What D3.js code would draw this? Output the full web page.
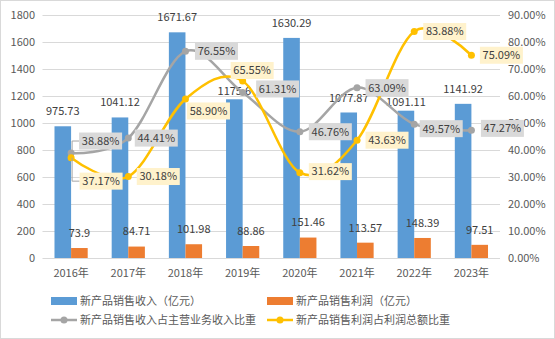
<!DOCTYPE html>
<html><head><meta charset="utf-8">
<script src="https://cdn.jsdelivr.net/npm/d3@7"></script>
<style>body{margin:0;background:#fff}svg{display:block}text{font-family:"Noto Sans CJK SC","Noto Sans",sans-serif}</style>
</head><body><svg id="c" width="555" height="339"></svg>
<script>
const years = ["2016年","2017年","2018年","2019年","2020年","2021年","2022年","2023年"];
const revenue = [975.73,1041.12,1671.67,1175.6,1630.29,1077.87,1091.11,1141.92];
const profit = [73.9,84.71,101.98,88.86,151.46,113.57,148.39,97.51];
const revenueShare = [38.88,44.41,76.55,61.31,46.76,63.09,49.57,47.27];
const profitShare = [37.17,30.18,58.90,65.55,31.62,43.63,83.88,75.09];
const leftTicks = [0,200,400,600,800,1000,1200,1400,1600,1800];
const rightTicks = [0,10,20,30,40,50,60,70,80,90];
const seriesNames = ["新产品销售收入（亿元）","新产品销售利润（亿元）","新产品销售收入占主营业务收入比重","新产品销售利润占利润总额比重"];

// label placement tweaks (offsets of label centers from points)
const grayOff = [[29.5,-12],[28,0],[31,0],[35,-3.5],[30.5,0],[30,0],[27,4.5],[31,-2]];
const yellowOff = [[30,23.5],[30,0],[23,12],[9.5,-10.5],[30.5,-1],[30,0],[30.5,0],[30,0]];
const blueLabelDy = [-15,-15,-15,-8,-15,-14,-9,-15];

const svg = d3.select("#c");
const W=555,H=339;
const m={l:42.5,r:500,t:15,b:258};
svg.append("rect").attr("x",0.5).attr("y",0.5).attr("width",W-1).attr("height",H-1).attr("fill","#fff").attr("stroke","#D9D9D9");

const x = d3.scaleBand().domain(years).range([m.l,m.r]);
const xi = d3.scaleBand().domain([0,1]).range([-16.6,16.6]);
const yl = d3.scaleLinear().domain([0,1800]).range([m.b,m.t]);
const yr = d3.scaleLinear().domain([0,90]).range([m.b,m.t]);
const cx = d => x(d)+x.bandwidth()/2;

// gridlines
svg.append("g").selectAll("line").data(leftTicks.slice(1)).join("line")
  .attr("x1",m.l).attr("x2",m.r).attr("y1",d=>Math.round(yl(d))+0.5).attr("y2",d=>Math.round(yl(d))+0.5)
  .attr("stroke","#D9D9D9");
svg.append("line").attr("x1",m.l).attr("x2",m.r).attr("y1",m.b+0.5).attr("y2",m.b+0.5).attr("stroke","#D9D9D9");

// axes labels
const ax = svg.append("g").attr("font-size",11).attr("fill","#595959");
ax.selectAll(".lt").data(leftTicks).join("text").attr("x",35).attr("y",d=>yl(d)).attr("dy","0.35em")
  .attr("text-anchor","end").attr("fill","#595959").text(d=>d);
ax.selectAll(".rt").data(rightTicks).join("text").attr("x",508).attr("y",d=>yr(d)).attr("dy","0.35em")
  .attr("fill","#595959").text(d=>d.toFixed(2)+"%");
ax.selectAll(".xt").data(years).join("text").attr("x",d=>cx(d)).attr("y",273).attr("dy","0.35em")
  .attr("text-anchor","middle").attr("fill","#595959").text(d=>d);

// bars
svg.append("g").selectAll("rect").data(years).join("rect")
  .attr("x",d=>cx(d)+xi(0)).attr("width",xi.bandwidth()).attr("y",(d,i)=>yl(revenue[i])).attr("height",(d,i)=>m.b-yl(revenue[i]))
  .attr("fill","#5B9BD5");
svg.append("g").selectAll("rect").data(years).join("rect")
  .attr("x",d=>cx(d)+xi(1)).attr("width",xi.bandwidth()).attr("y",(d,i)=>yl(profit[i])).attr("height",(d,i)=>m.b-yl(profit[i]))
  .attr("fill","#ED7D31");

// bar labels
const bl = svg.append("g").attr("font-size",11).attr("fill","#404040").attr("text-anchor","middle");
bl.selectAll(".b").data(years).join("text").attr("x",d=>cx(d)+xi(0)+xi.bandwidth()/2)
  .attr("y",(d,i)=>yl(revenue[i])+blueLabelDy[i]).attr("dy","0.35em").text((d,i)=>revenue[i]);
bl.selectAll(".o").data(years).join("text").attr("x",d=>cx(d)+xi(1)+xi.bandwidth()/2)
  .attr("y",(d,i)=>yl(profit[i])-15).attr("dy","0.35em").text((d,i)=>profit[i]);

// lines
const line = d3.line().x((d,i)=>cx(years[i])).y(d=>yr(d)).curve(d3.curveCatmullRom.alpha(0));
svg.append("path").attr("d",line(revenueShare)).attr("fill","none").attr("stroke","#A5A5A5").attr("stroke-width",2.5);
svg.append("path").attr("d",line(profitShare)).attr("fill","none").attr("stroke","#FFC000").attr("stroke-width",2.5);
svg.append("g").selectAll("circle").data(revenueShare).join("circle").attr("cx",(d,i)=>cx(years[i])).attr("cy",d=>yr(d)).attr("r",3.5).attr("fill","#A5A5A5");
svg.append("g").selectAll("circle").data(profitShare).join("circle").attr("cx",(d,i)=>cx(years[i])).attr("cy",d=>yr(d)).attr("r",3.5).attr("fill","#FFC000");

// leader lines for 2016 labels
function leader(val,off,color){
  const px=cx(years[0]), py=yr(val);
  const bx=px+off[0]-21.5, by=py+off[1];
  svg.append("path").attr("d",`M${px+1},${py}L${px+1},${by}L${bx},${by}`).attr("fill","none").attr("stroke","#A5A5A5").attr("stroke-width",1);
}
leader(revenueShare[0],grayOff[0]);
leader(profitShare[0],yellowOff[0]);

// line labels
function lineLabels(vals,offs,fill){
  const g = svg.append("g");
  vals.forEach((v,i)=>{
    const lx=cx(years[i])+offs[i][0], ly=yr(v)+offs[i][1];
    g.append("rect").attr("x",lx-21.5).attr("y",ly-8.5).attr("width",43).attr("height",17).attr("fill",fill);
    g.append("text").attr("x",lx).attr("y",ly).attr("dy","0.35em").attr("text-anchor","middle")
      .attr("font-size",11).attr("fill","#404040").text(v.toFixed(2)+"%");
  });
}
lineLabels(revenueShare,grayOff,"#D9D9D9");
lineLabels(profitShare,yellowOff,"#FFF2CC");

// legend
const lg = svg.append("g").attr("font-size",11).attr("fill","#595959");
const items=[{x:51,y:301,t:"rect",c:"#5B9BD5"},{x:267,y:301,t:"rect",c:"#ED7D31"},{x:51,y:320,t:"line",c:"#A5A5A5"},{x:267,y:320,t:"line",c:"#FFC000"}];
items.forEach((it,i)=>{
  if(it.t==="rect"){
    lg.append("rect").attr("x",it.x).attr("y",it.y-4).attr("width",26).attr("height",8).attr("fill",it.c);
  } else {
    lg.append("line").attr("x1",it.x).attr("x2",it.x+26).attr("y1",it.y).attr("y2",it.y).attr("stroke",it.c).attr("stroke-width",2.5);
    lg.append("circle").attr("cx",it.x+13).attr("cy",it.y).attr("r",3.5).attr("fill",it.c);
  }
  lg.append("text").attr("x",it.x+29).attr("y",it.y).attr("dy","0.35em").attr("fill","#595959").text(seriesNames[i]);
});
</script></body></html>
